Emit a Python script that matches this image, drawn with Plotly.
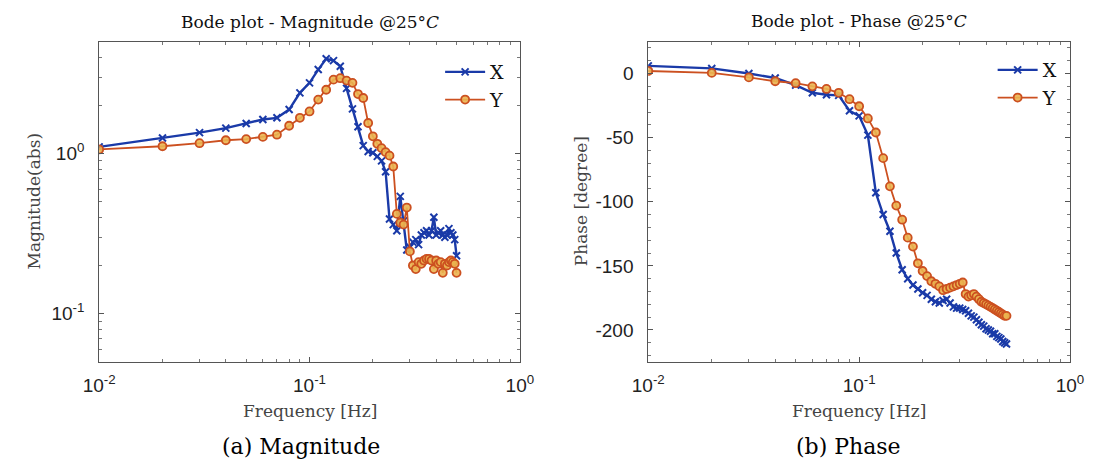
import plotly.graph_objects as go

# ---------------- data ----------------
freq = [0.01, 0.02, 0.03, 0.04, 0.05, 0.06, 0.07, 0.08, 0.09, 0.10,
        0.11, 0.12, 0.13, 0.14, 0.15, 0.16, 0.17, 0.18, 0.19, 0.20,
        0.21, 0.22, 0.23, 0.24, 0.25, 0.26, 0.27, 0.28, 0.29, 0.30,
        0.31, 0.32, 0.33, 0.34, 0.35, 0.36, 0.37, 0.38, 0.39, 0.40,
        0.41, 0.42, 0.43, 0.44, 0.45, 0.46, 0.47, 0.48, 0.49, 0.50]

mag_x = [1.10, 1.25, 1.35, 1.44, 1.54, 1.63, 1.67, 1.88, 2.39, 2.76,
         3.34, 3.90, 3.80, 3.50, 2.55, 1.90, 1.47, 1.12, 1.03, 1.01,
         0.96, 0.90, 0.77, 0.39, 0.36, 0.33, 0.54, 0.38, 0.25, 0.26,
         0.28, 0.29, 0.27, 0.31, 0.32, 0.33, 0.31, 0.33, 0.40, 0.31,
         0.32, 0.33, 0.31, 0.30, 0.31, 0.34, 0.32, 0.31, 0.29, 0.23]

mag_y = [1.06, 1.11, 1.16, 1.21, 1.23, 1.27, 1.31, 1.49, 1.67, 1.83,
         2.17, 2.50, 2.89, 2.95, 2.85, 2.76, 2.35, 2.22, 1.55, 1.28,
         1.15, 1.08, 1.02, 0.97, 0.83, 0.42, 0.37, 0.36, 0.46, 0.245,
         0.200, 0.190, 0.210, 0.205, 0.215, 0.220, 0.220, 0.215, 0.190, 0.215,
         0.205, 0.210, 0.180, 0.205, 0.200, 0.210, 0.215, 0.210, 0.205, 0.180]

phase_x = [6, 4, 0, -3.5, -9, -15, -16.5, -17, -29, -33,
           -48, -93, -110, -123, -140, -153, -160, -165, -168, -171,
           -173, -176, -178, -179, -177, -176, -179, -182, -183, -183,
           -184, -185, -187, -189, -190, -192, -194, -196, -197, -199,
           -200, -201, -203, -203, -205, -206, -207, -209, -210, -211]

phase_y = [2, 0.5, -3, -6, -7.5, -10, -12, -15, -20, -25.5,
           -35, -46, -66, -88, -103, -114, -128, -135, -148, -154,
           -158, -162, -164, -166, -169, -168, -167, -166, -165, -164,
           -163, -172, -174, -173, -172, -174, -176, -178, -179, -180,
           -181, -182, -183, -184, -185, -186, -187, -188, -189, -189]

series_names = ["X", "Y"]
x_ticks = [0.01, 0.1, 1]
x_ticktext = ["10<sup>-2</sup>", "10<sup>-1</sup>", "10<sup>0</sup>"]
mag_ticks = [0.1, 1]
mag_ticktext = ["10<sup>-1</sup>", "10<sup>0</sup>"]
phase_ticks = [-200, -150, -100, -50, 0]
phase_ticktext = ["-200", "-150", "-100", "-50", "0"]

# ---------------- style ----------------
BLUE = "#1a3aa8"
ORANGE = "#cc5020"
SERIF = "DejaVu Serif"
SANS = "Liberation Sans"
W, H = 1101, 461

L1, R1 = 85.5, 518.0
L2, R2 = 650.0, 1083.5
TOP, BOT = 41.5, 362.0

def px(xp):
    return xp / W

def py(yp):
    return 1 - yp / H

fig = go.Figure()

def add_pair(xa, ya, yx, yy, leg):
    fig.add_trace(go.Scatter(x=freq, y=yx, name=series_names[0], mode="lines+markers",
                             line=dict(color=BLUE, width=2.4),
                             marker=dict(symbol="x-thin-open", size=7, color=BLUE,
                                         line=dict(width=2, color=BLUE)),
                             xaxis=xa, yaxis=ya, legend=leg))
    fig.add_trace(go.Scatter(x=freq, y=yy, name=series_names[1], mode="lines+markers",
                             line=dict(color=ORANGE, width=1.8),
                             marker=dict(symbol="circle", size=8, color="rgba(235,180,80,0.9)",
                                         line=dict(width=1.8, color=ORANGE)),
                             xaxis=xa, yaxis=ya, legend=leg))

add_pair("x", "y", mag_x, mag_y, "legend")
add_pair("x2", "y2", phase_x, phase_y, "legend2")

minor_log = [m * d for d in (0.01, 0.1) for m in range(2, 10)]
axis_common = dict(showline=True, linecolor="#555", linewidth=1, mirror="ticks",
                   ticks="inside", ticklen=5, tickcolor="#555", showgrid=False,
                   zeroline=False, tickfont=dict(family=SANS, size=19, color="#222"))

fig.update_layout(
    width=W, height=H, margin=dict(l=0, r=0, t=0, b=0),
    paper_bgcolor="white", plot_bgcolor="white", showlegend=True,
    xaxis=dict(type="log", range=[-2, 0], domain=[px(L1), px(R1)], anchor="y",
               tickvals=x_ticks, ticktext=x_ticktext, ticklabelstandoff=6,
               minor=dict(ticks="inside", ticklen=3, tickcolor="#777", tickvals=minor_log),
               **axis_common),
    yaxis=dict(type="log", range=[-1.30103, 0.69897], domain=[py(BOT), py(TOP)], anchor="x",
               tickvals=mag_ticks, ticktext=mag_ticktext, ticklabelstandoff=10,
               minor=dict(ticks="inside", ticklen=3, tickcolor="#777",
                          tickvals=[0.06, 0.07, 0.08, 0.09, 0.2, 0.3, 0.4, 0.5, 0.6, 0.7, 0.8, 0.9,
                                    2, 3, 4]),
               **axis_common),
    xaxis2=dict(type="log", range=[-2, 0], domain=[px(L2), px(R2)], anchor="y2",
                tickvals=x_ticks, ticktext=x_ticktext, ticklabelstandoff=6,
                minor=dict(ticks="inside", ticklen=3, tickcolor="#777", tickvals=minor_log),
                **axis_common),
    yaxis2=dict(range=[-225, 25], domain=[py(BOT), py(TOP)], anchor="x2",
                tickvals=phase_ticks, ticktext=phase_ticktext, ticklabelstandoff=10,
                minor=dict(ticks="inside", ticklen=3, tickcolor="#777", dtick=10),
                **axis_common),
    legend=dict(x=px(436), y=py(53), xanchor="left", yanchor="top",
                bgcolor="rgba(0,0,0,0)", font=dict(family=SERIF, size=19, color="#111"),
                itemwidth=40, tracegroupgap=0),
    legend2=dict(x=px(1004), y=py(51), xanchor="left", yanchor="top",
                 bgcolor="rgba(0,0,0,0)", font=dict(family=SERIF, size=19, color="#111"),
                 itemwidth=40, tracegroupgap=0),
)

ann = []
def text(x, y, s, size, color="#111", angle=0, family=SERIF):
    ann.append(dict(x=px(x), y=py(y), xref="paper", yref="paper", text=s, showarrow=False,
                    xanchor="center", yanchor="middle", textangle=angle,
                    font=dict(family=family, size=size, color=color)))

text((L1 + R1) / 2, 22, "Bode plot - Magnitude @25°<i>C</i>", 17)
text((L2 + R2) / 2, 21, "Bode plot - Phase @25°<i>C</i>", 17)
text((L1 + R1) / 2, 411, "Frequency [Hz]", 17, color="#444")
text((L2 + R2) / 2, 411, "Frequency [Hz]", 17, color="#444")
text(19, 201, "Magnitude(abs)", 17, color="#444", angle=-90)
text(581, 201, "Phase [degree]", 17, color="#444", angle=-90)
text(293, 446, "(a) Magnitude", 22, color="#000")
text(856, 446, "(b) Phase", 22, color="#000")
fig.update_layout(annotations=ann)

fig.write_html("out.html")
